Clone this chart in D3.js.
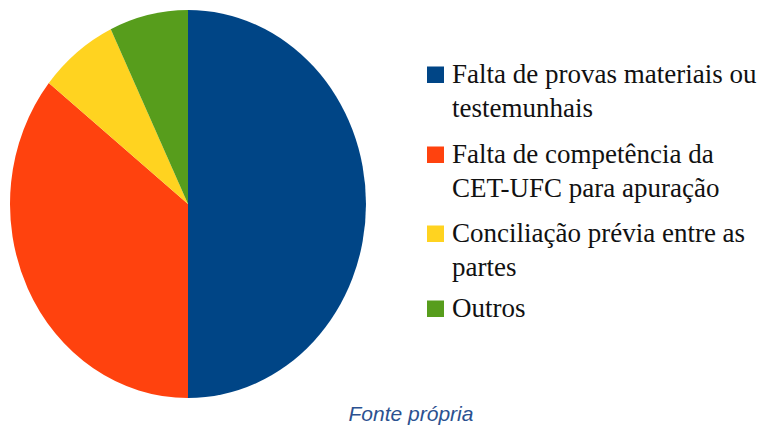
<!DOCTYPE html>
<html>
<head>
<meta charset="utf-8">
<script src="https://cdn.jsdelivr.net/npm/d3@7"></script>
<style>
  body { margin: 0; background: #fff; }
  .legend text { font-family: 'Liberation Serif', Tinos, 'Times New Roman', 'DejaVu Serif', serif; font-size: 27px; fill: #111; }
  .caption { font-family: 'Liberation Sans', Arial, sans-serif; font-size: 21px; font-style: italic; fill: #2b5190; }
</style>
</head>
<body>
<div id="chart"></div>
<script>
// data (counts)
const categories = [
    ["Falta de provas materiais ou", "testemunhais"],
    ["Falta de competência da", "CET-UFC para apuração"],
    ["Conciliação prévia entre as", "partes"],
    ["Outros"]
];
const values = [14, 10, 2, 2];
const colors = ["#004586", "#ff420e", "#ffd320", "#579d1c"];
const caption = "Fonte própria";

const width = 770, height = 429;

const svg = d3.select("#chart").append("svg")
    .attr("width", width)
    .attr("height", height);

// pie is a little taller than wide in the original
const rx = 178, ry = 194;
const pieGroup = svg.append("g")
    .attr("transform", `translate(188,204) scale(1,${ry / rx})`);

const pie = d3.pie().sort(null).value(d => d);
const arc = d3.arc().innerRadius(0).outerRadius(rx);

pieGroup.selectAll("path")
    .data(pie(values))
    .enter()
    .append("path")
    .attr("d", arc)
    .attr("fill", (d, i) => colors[i]);

// legend
const legend = svg.append("g").attr("class", "legend");
const baselines = [83, 163, 242, 317];
const lineHeight = 34;

categories.forEach((lines, i) => {
    const y = baselines[i];
    legend.append("rect")
        .attr("x", 427)
        .attr("y", y - 16.5)
        .attr("width", 17)
        .attr("height", 16.5)
        .attr("fill", colors[i]);
    lines.forEach((t, j) => {
        legend.append("text")
            .attr("x", 452)
            .attr("y", y + j * lineHeight)
            .attr("font-family", "Liberation Serif, serif")
            .text(t);
    });
});

svg.append("text")
    .attr("class", "caption")
    .attr("x", 411)
    .attr("y", 421)
    .attr("text-anchor", "middle")
    .text(caption);
</script>
</body>
</html>
